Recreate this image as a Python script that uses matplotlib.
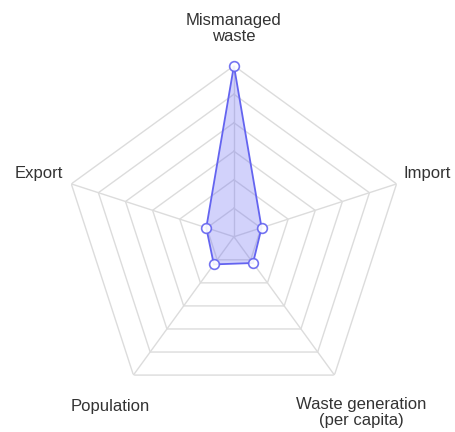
import numpy as np
import matplotlib.pyplot as plt

plt.rcParams['font.family'] = ['Liberation Sans', 'DejaVu Sans']

# Данные радара
categories = ['Mismanaged\nwaste', 'Import', 'Waste generation\n(per capita)', 'Population', 'Export']
values = [1.0, 0.17, 0.19, 0.20, 0.17]
levels = [1/6, 2/6, 3/6, 4/6, 5/6, 1.0]
label_r = [1.22, 1.19, 1.27, 1.23, 1.2]

n = len(categories)
theta = np.linspace(0, 2 * np.pi, n, endpoint=False)
theta_closed = np.append(theta, theta[0])

fig = plt.figure(figsize=(4.56, 4.32), dpi=100)
ax = fig.add_axes([0.138, 0.056, 0.75, 0.792], projection='polar')
ax.set_theta_offset(np.pi / 2)
ax.set_theta_direction(-1)
ax.set_ylim(0, 1)
ax.grid(False)
ax.spines['polar'].set_visible(False)
ax.set_xticks([])
ax.set_yticks([])

# сетка-пятиугольники
for lv in levels:
    ax.plot(theta_closed, [lv] * (n + 1), color='#dcdcdc', lw=1.0, zorder=1)
for t in theta:
    ax.plot([t, t], [0, 1], color='#dcdcdc', lw=1.0, zorder=1)

# данные
vals = values + values[:1]
ax.fill(theta_closed, vals, color='#6a6af5', alpha=0.3, zorder=2, lw=0)
ax.plot(theta_closed, vals, color='#6464f0', lw=1.3, zorder=3)
ax.plot(theta, values, 'o', ms=7, mfc='white', mec='#6464f0', mew=1.2, alpha=0.9,
        zorder=4, clip_on=False)

for t, lab, r in zip(theta, categories, label_r):
    ax.text(t, r, lab, ha='center', va='center', fontsize=12, color='#333333',
            linespacing=1.1)

fig.savefig('out.png', dpi=100)
